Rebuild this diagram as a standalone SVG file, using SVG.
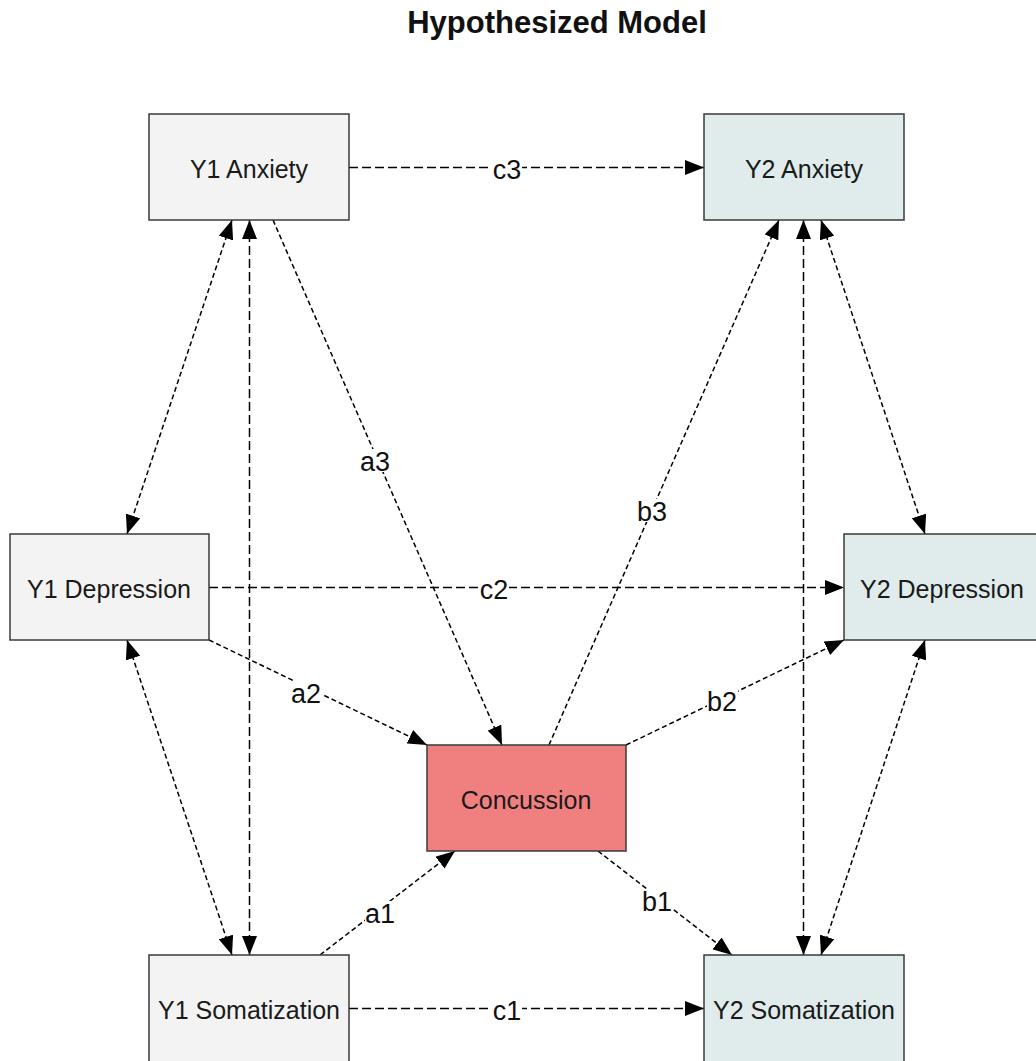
<svg xmlns="http://www.w3.org/2000/svg" width="1036" height="1061" viewBox="0 0 1036 1061">
  <style>
    .title { font-family: "Liberation Sans", Arial, sans-serif; font-size: 31px; font-weight: bold; fill: #111; text-anchor: middle; }
    .node rect { stroke: #3a3a3a; stroke-width: 1.5; }
    .node text { font-family: "Liberation Sans", Arial, sans-serif; font-size: 25px; fill: #1a1a1a; text-anchor: middle; }
    .y1 rect { fill: #f3f3f3; }
    .y2 rect { fill: #dfeceb; }
    .mid rect { fill: #f08080; }
    .edge { fill: none; stroke: #000; stroke-width: 1.5; }
    .straight { stroke-dasharray: 9 4; }
    .slant { stroke-dasharray: 5 3; }
    .one { marker-end: url(#head); }
    .two { marker-start: url(#head); marker-end: url(#head); }
    .lbl rect { fill: #fff; }
    .lbl text { font-family: "Liberation Sans", Arial, sans-serif; font-size: 27px; fill: #111; text-anchor: middle; }
  </style>
  <defs>
    <marker id="head" viewBox="0 0 19 15" refX="19" refY="7.5" markerWidth="19" markerHeight="15" markerUnits="userSpaceOnUse" orient="auto-start-reverse">
      <path d="M0,0 L19,7.5 L0,15 Z" fill="#000"/>
    </marker>
  </defs>

  <rect width="1036" height="1061" fill="#fff"/>
  <text class="title" x="557" y="33">Hypothesized Model</text>

  <!-- paths between the measures -->
  <g id="connectors">
    <!-- cross-year paths -->
    <line class="edge straight one" x1="349" y1="167.5" x2="704" y2="167.5"/>
    <line class="edge straight one" x1="209" y1="587.5" x2="844" y2="587.5"/>
    <line class="edge straight one" x1="349" y1="1008.5" x2="704" y2="1008.5"/>
    <!-- paths into the mediator -->
    <line class="edge slant one" x1="273" y1="220" x2="502" y2="745"/>
    <line class="edge slant one" x1="209" y1="640" x2="427" y2="745"/>
    <line class="edge slant one" x1="320" y1="955" x2="455" y2="851"/>
    <!-- paths out of the mediator -->
    <line class="edge slant one" x1="549" y1="745" x2="779" y2="220"/>
    <line class="edge slant one" x1="626" y1="745" x2="844" y2="640"/>
    <line class="edge slant one" x1="598" y1="851" x2="732" y2="955"/>
    <!-- within-year covariances, year 1 -->
    <line class="edge slant two" x1="232" y1="220" x2="127" y2="534"/>
    <line class="edge straight two" x1="249.5" y1="220" x2="249.5" y2="955"/>
    <line class="edge slant two" x1="127" y1="640" x2="232" y2="955"/>
    <!-- within-year covariances, year 2 -->
    <line class="edge slant two" x1="821" y1="220" x2="925" y2="534"/>
    <line class="edge straight two" x1="803.5" y1="220" x2="803.5" y2="955"/>
    <line class="edge slant two" x1="925" y1="640" x2="821" y2="955"/>

    <!-- path labels -->
    <g class="lbl">
      <rect x="492" y="157" width="30" height="23"/><text x="507" y="179">c3</text>
      <rect x="479" y="577" width="30" height="23"/><text x="494" y="599">c2</text>
      <rect x="492" y="998" width="30" height="23"/><text x="507" y="1020">c1</text>
      <rect x="360" y="449" width="31" height="23"/><text x="375" y="471">a3</text>
      <rect x="637" y="499" width="31" height="23"/><text x="652" y="521">b3</text>
      <rect x="291" y="681" width="31" height="23"/><text x="306" y="703">a2</text>
      <rect x="707" y="689" width="31" height="23"/><text x="722" y="711">b2</text>
      <rect x="365" y="901" width="31" height="23"/><text x="380" y="923">a1</text>
      <rect x="642" y="889" width="31" height="23"/><text x="657" y="911">b1</text>
    </g>
  </g>

  <g id="y1-anxiety" class="node y1">
    <rect x="149" y="114" width="200" height="106"/>
    <text x="249" y="178">Y1 Anxiety</text>
  </g>
  <g id="y1-depression" class="node y1">
    <rect x="10" y="534" width="199" height="106"/>
    <text x="109" y="598">Y1 Depression</text>
  </g>
  <g id="y1-somatization" class="node y1">
    <rect x="149" y="955" width="200" height="110"/>
    <text x="249" y="1019">Y1 Somatization</text>
  </g>
  <g id="concussion" class="node mid">
    <rect x="427" y="745" width="199" height="106"/>
    <text x="526" y="809">Concussion</text>
  </g>
  <g id="y2-anxiety" class="node y2">
    <rect x="704" y="114" width="200" height="106"/>
    <text x="804" y="178">Y2 Anxiety</text>
  </g>
  <g id="y2-depression" class="node y2">
    <rect x="844" y="534" width="196" height="106"/>
    <text x="942" y="598">Y2 Depression</text>
  </g>
  <g id="y2-somatization" class="node y2">
    <rect x="704" y="955" width="200" height="110"/>
    <text x="804" y="1019">Y2 Somatization</text>
  </g>
</svg>
